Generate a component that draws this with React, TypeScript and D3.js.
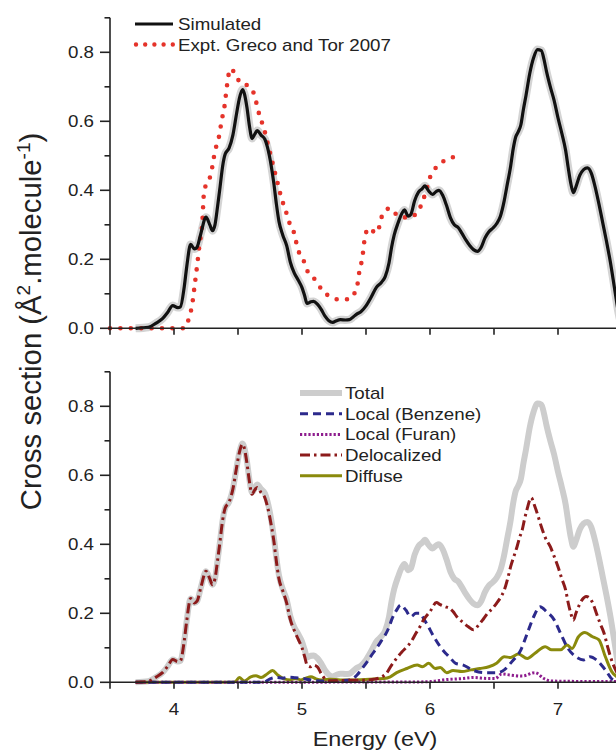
import React from "react";
import * as d3 from "d3";

// ---------- data (energy in eV, cross section in Å².molecule⁻¹) ----------
const simE = [3.70,3.80,3.86,3.91,3.95,3.99,4.03,4.05,4.08,4.10,4.13,4.16,4.18,4.21,4.25,4.28,4.30,4.32,4.34,4.36,4.38,4.40,4.43,4.46,4.49,4.51,4.535,4.55,4.57,4.59,4.61,4.63,4.65,4.68,4.71,4.73,4.76,4.78,4.80,4.82,4.85,4.88,4.91,4.94,4.97,5.00,5.02,5.04,5.07,5.09,5.12,5.15,5.18,5.21,5.24,5.27,5.30,5.34,5.37,5.40,5.43,5.46,5.50,5.54,5.58,5.62,5.65,5.68,5.70,5.72,5.75,5.78,5.80,5.83,5.85,5.88,5.91,5.94,5.96,5.99,6.02,6.05,6.07,6.10,6.13,6.16,6.19,6.22,6.25,6.28,6.31,6.34,6.37,6.40,6.43,6.46,6.49,6.52,6.55,6.58,6.60,6.63,6.65,6.67,6.69,6.71,6.73,6.75,6.78,6.81,6.84,6.87,6.89,6.91,6.94,6.97,7.00,7.03,7.06,7.08,7.10,7.12,7.14,7.17,7.20,7.23,7.26,7.29,7.32,7.35,7.38,7.41,7.44,7.47,7.50];
const simV = [0,0.003,0.015,0.028,0.046,0.066,0.060,0.062,0.12,0.18,0.243,0.23,0.235,0.275,0.322,0.30,0.283,0.30,0.352,0.41,0.47,0.505,0.522,0.56,0.625,0.665,0.692,0.68,0.64,0.585,0.55,0.562,0.573,0.56,0.548,0.525,0.47,0.42,0.36,0.31,0.27,0.24,0.19,0.16,0.14,0.118,0.095,0.072,0.077,0.078,0.07,0.055,0.035,0.022,0.017,0.022,0.025,0.024,0.025,0.033,0.042,0.048,0.065,0.09,0.118,0.133,0.15,0.19,0.235,0.27,0.305,0.333,0.343,0.325,0.33,0.37,0.395,0.405,0.413,0.398,0.388,0.397,0.40,0.385,0.355,0.32,0.30,0.292,0.275,0.256,0.24,0.228,0.223,0.235,0.262,0.28,0.29,0.303,0.325,0.37,0.41,0.47,0.52,0.555,0.57,0.59,0.635,0.675,0.74,0.785,0.808,0.805,0.78,0.745,0.70,0.66,0.61,0.565,0.515,0.465,0.42,0.393,0.41,0.443,0.46,0.465,0.45,0.41,0.36,0.305,0.25,0.19,0.12,0.05,0.0];

const exptE = [3.50,4.08,4.10,4.12,4.14,4.16,4.18,4.20,4.22,4.235,4.29,4.32,4.34,4.36,4.37,4.39,4.40,4.41,4.42,4.44,4.48,4.52,4.58,4.63,4.65,4.67,4.70,4.72,4.74,4.76,4.78,4.80,4.82,4.84,4.87,4.89,4.93,4.95,4.97,5.01,5.04,5.11,5.16,5.22,5.30,5.38,5.42,5.44,5.45,5.47,5.48,5.49,5.52,5.58,5.61,5.63,5.69,5.75,5.83,5.91,5.94,5.97,5.99,6.03,6.10,6.18];
const exptV = [0,0,0.01,0.034,0.064,0.12,0.18,0.244,0.30,0.395,0.45,0.512,0.541,0.571,0.60,0.631,0.66,0.691,0.72,0.752,0.737,0.71,0.703,0.674,0.643,0.614,0.583,0.554,0.523,0.494,0.464,0.435,0.406,0.375,0.346,0.316,0.287,0.257,0.227,0.199,0.168,0.138,0.109,0.092,0.083,0.086,0.112,0.141,0.171,0.20,0.23,0.26,0.29,0.276,0.302,0.332,0.348,0.326,0.321,0.339,0.368,0.397,0.427,0.457,0.483,0.496];

const delocE = [3.70,3.80,3.86,3.91,3.95,3.99,4.03,4.05,4.08,4.10,4.13,4.16,4.18,4.21,4.25,4.28,4.30,4.32,4.34,4.36,4.38,4.40,4.43,4.46,4.49,4.51,4.535,4.55,4.57,4.59,4.61,4.63,4.65,4.68,4.71,4.73,4.76,4.78,4.80,4.82,4.85,4.88,4.91,4.94,4.97,5.00,5.02,5.04,5.07,5.09,5.12,5.15,5.18,5.21,5.30,5.40,5.50,5.56,5.62,5.66,5.70,5.74,5.78,5.82,5.86,5.89,5.92,5.95,6.00,6.05,6.08,6.12,6.15,6.18,6.21,6.25,6.30,6.34,6.38,6.42,6.45,6.49,6.52,6.55,6.58,6.61,6.63,6.66,6.68,6.70,6.72,6.74,6.76,6.79,6.82,6.85,6.87,6.90,6.94,6.97,7.00,7.03,7.06,7.08,7.10,7.12,7.14,7.16,7.19,7.22,7.25,7.28,7.30,7.33,7.36,7.39,7.41,7.45,7.50];
const delocV = [0,0.003,0.015,0.028,0.046,0.066,0.060,0.062,0.12,0.18,0.243,0.23,0.235,0.275,0.322,0.30,0.283,0.30,0.352,0.41,0.47,0.505,0.522,0.56,0.625,0.665,0.69,0.678,0.635,0.58,0.545,0.557,0.565,0.55,0.535,0.51,0.455,0.41,0.35,0.30,0.265,0.23,0.18,0.15,0.125,0.10,0.075,0.05,0.045,0.05,0.045,0.025,0.01,0.004,0.005,0.006,0.006,0.009,0.015,0.026,0.05,0.07,0.088,0.103,0.122,0.142,0.16,0.181,0.205,0.231,0.225,0.219,0.215,0.205,0.19,0.176,0.161,0.152,0.166,0.185,0.20,0.215,0.229,0.245,0.267,0.305,0.335,0.37,0.393,0.42,0.441,0.475,0.504,0.535,0.509,0.475,0.451,0.42,0.393,0.365,0.335,0.30,0.267,0.23,0.20,0.18,0.20,0.219,0.24,0.249,0.243,0.222,0.20,0.17,0.142,0.10,0.074,0.036,0.01];

const benzE = [3.70,4.70,4.75,4.80,4.85,4.90,4.95,5.00,5.05,5.10,5.20,5.30,5.38,5.43,5.47,5.51,5.55,5.59,5.62,5.65,5.68,5.70,5.74,5.77,5.81,5.85,5.89,5.92,5.95,5.98,6.03,6.08,6.12,6.15,6.20,6.26,6.33,6.42,6.52,6.58,6.64,6.71,6.76,6.81,6.86,6.91,6.97,7.02,7.07,7.14,7.20,7.25,7.30,7.37,7.43,7.50];
const benzV = [0,0,0.01,0.014,0.012,0.015,0.013,0.012,0.008,0.005,0.004,0.005,0.007,0.021,0.04,0.06,0.082,0.103,0.12,0.137,0.16,0.181,0.21,0.224,0.21,0.19,0.20,0.20,0.185,0.166,0.132,0.103,0.085,0.074,0.055,0.05,0.036,0.028,0.028,0.036,0.06,0.094,0.142,0.19,0.219,0.205,0.181,0.142,0.103,0.074,0.065,0.074,0.065,0.036,0.007,0];

const furanE = [3.70,5.90,6.00,6.13,6.26,6.34,6.45,6.51,6.56,6.63,6.72,6.82,6.89,6.94,7.04,7.50];
const furanV = [0,0.001,0.002,0.008,0.011,0.014,0.011,0.011,0.024,0.021,0.018,0.028,0.011,0.004,0.003,0.002];

const diffE = [3.70,4.45,4.48,4.51,4.55,4.60,4.64,4.68,4.73,4.77,4.81,4.86,4.91,4.95,4.99,5.03,5.07,5.11,5.15,5.22,5.30,5.38,5.53,5.64,5.69,5.74,5.82,5.90,5.94,5.99,6.04,6.08,6.13,6.18,6.25,6.32,6.39,6.46,6.52,6.58,6.63,6.69,6.76,6.82,6.90,6.95,7.02,7.07,7.11,7.16,7.21,7.27,7.32,7.37,7.42,7.46,7.50];
const diffV = [0,0,0.002,0.014,0.004,0.016,0.019,0.014,0.025,0.034,0.021,0.01,0.007,0.011,0.007,0.012,0.016,0.01,0.007,0.009,0.007,0.007,0.009,0.011,0.016,0.028,0.04,0.05,0.045,0.055,0.04,0.043,0.028,0.034,0.031,0.036,0.04,0.045,0.055,0.074,0.072,0.082,0.069,0.084,0.103,0.094,0.094,0.108,0.098,0.132,0.144,0.132,0.123,0.074,0.031,0.016,0.005];

const xTicks = [3.5,4,4.5,5,5.5,6,6.5,7,7.5];
const xTickLabels = ["4","5","6","7"];
const yTicks = [0,0.1,0.2,0.3,0.4,0.5,0.6,0.7,0.8,0.9];
const yTickLabels = ["0.0","0.2","0.4","0.6","0.8"];

const topLegend = ["Simulated","Expt. Greco and Tor 2007"];
const botLegend = ["Total","Local (Benzene)","Local (Furan)","Delocalized","Diffuse"];

// ---------- styles ----------
const FONT = "'Liberation Sans', Arial, Helvetica, sans-serif";
const INK = "#222";
const SX = 1.17;

const zip = (a: number[], b: number[]) => a.map((e, i) => [e, b[i]] as [number, number]);

function T({ x, y, children, anchor = "start", size = 16 }: any) {
  return (
    <text transform={`translate(${x},${y}) scale(${SX},1)`} textAnchor={anchor} fontSize={size} fill={INK} fontFamily={FONT}>
      {children}
    </text>
  );
}

export default function App() {
  const x = d3.scaleLinear().domain([3.5, 7.5]).range([110, 622]);
  const yTop = d3.scaleLinear().domain([0, 0.9]).range([328.3, 17.8]);
  const yBot = d3.scaleLinear().domain([0, 0.9]).range([682.3, 371.8]);

  const lineTop = d3.line<[number, number]>().x(d => x(d[0])).y(d => yTop(d[1])).curve(d3.curveMonotoneX);
  const lineBot = d3.line<[number, number]>().x(d => x(d[0])).y(d => yBot(d[1])).curve(d3.curveMonotoneX);

  const sim = zip(simE, simV);
  const styles = {
    total: { stroke: "#cdcdcd", strokeWidth: 6 },
    benz: { stroke: "#2c2a8c", strokeWidth: 3, strokeDasharray: "8 5" },
    furan: { stroke: "#8e1d8e", strokeWidth: 3, strokeDasharray: "2.2 2" },
    deloc: { stroke: "#8c1b1b", strokeWidth: 3, strokeDasharray: "10 4 2.5 4" },
    diff: { stroke: "#8a8a0c", strokeWidth: 3 },
  };

  const axes = (y: d3.ScaleLinear<number, number>, showX: boolean) => {
    const y0 = y(0);
    return (
      <g stroke={INK} strokeWidth={1.6} fill="none">
        <line x1={110} x2={616} y1={y0} y2={y0} />
        <line x1={110} x2={110} y1={y(0.9)} y2={y0 + 0.8} />
        {xTicks.map(t => (
          <line key={"xt" + t} x1={x(t)} x2={x(t)} y1={y0} y2={y0 + 6.5} />
        ))}
        {yTicks.map((t, i) => (
          <line key={"yt" + t} x1={i % 2 === 0 ? 100 : 104.5} x2={110} y1={y(t)} y2={y(t)} />
        ))}
        <g stroke="none">
          {yTickLabels.map((s, i) => (
            <T key={s} x={94} y={y(i * 0.2) + 5.8} anchor="end">{s}</T>
          ))}
          {showX && xTickLabels.map(s => (
            <T key={s} x={x(+s)} y={715} anchor="middle">{s}</T>
          ))}
        </g>
      </g>
    );
  };

  return (
    <svg width={616} height={750} style={{ position: "absolute", left: 0, top: 0, background: "#fff" }}>
      <rect width={616} height={750} fill="#fff" />
      {/* top panel */}
      <path d={lineTop(sim) || ""} fill="none" stroke="#d4d4d4" strokeWidth={8} strokeLinejoin="round" />
      <path d={lineTop(zip(exptE, exptV)) || ""} fill="none" stroke="#e5332a" strokeWidth={4.6} strokeLinecap="round" strokeDasharray="0 10.4" />
      <path d={lineTop(sim) || ""} fill="none" stroke="#111" strokeWidth={3.2} strokeLinejoin="round" />
      {axes(yTop, false)}
      {/* top legend */}
      <line x1={135} x2={173} y1={24} y2={24} stroke="#111" strokeWidth={3} />
      <line x1={136} x2={173} y1={44.5} y2={44.5} stroke="#e5332a" strokeWidth={4.4} strokeLinecap="round" strokeDasharray="0 9.2" />
      <T x={178} y={30}>{topLegend[0]}</T>
      <T x={178} y={50.5}>{topLegend[1]}</T>

      {/* bottom panel */}
      <path d={lineBot(sim) || ""} fill="none" {...styles.total} strokeLinejoin="round" />
      <path d={lineBot(zip(diffE, diffV)) || ""} fill="none" {...styles.diff} />
      <path d={lineBot(zip(furanE, furanV)) || ""} fill="none" {...styles.furan} />
      <path d={lineBot(zip(benzE, benzV)) || ""} fill="none" {...styles.benz} />
      <path d={lineBot(zip(delocE, delocV)) || ""} fill="none" {...styles.deloc} />
      {axes(yBot, true)}
      {/* bottom legend */}
      {[styles.total, styles.benz, styles.furan, styles.deloc, styles.diff].map((s, i) => {
        const yy = 393 + i * 20.7;
        return (
          <g key={i}>
            <line x1={300} x2={342} y1={yy} y2={yy} {...s} />
            <T x={345} y={yy + 6}>{botLegend[i]}</T>
          </g>
        );
      })}

      {/* axis titles */}
      <T x={375} y={746} anchor="middle" size={20}>Energy (eV)</T>
      <text transform="translate(41,321.5) rotate(-90)" textAnchor="middle" fontSize={29.3} fill={INK} fontFamily={FONT}>
        Cross section (Å<tspan fontSize={19} dy={-11.5}>2</tspan><tspan dy={11.5}>.molecule</tspan><tspan fontSize={19} dy={-11.5}>-1</tspan><tspan dy={11.5}>)</tspan>
      </text>
    </svg>
  );
}
